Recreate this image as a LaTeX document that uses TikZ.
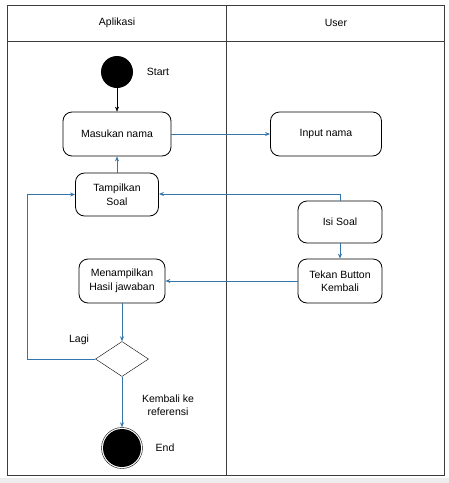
\documentclass[tikz,border=0pt]{standalone}
\usepackage{fontspec}
\setmainfont{Liberation Sans}
\usetikzlibrary{arrows.meta,shapes.geometric}
\definecolor{flowblue}{RGB}{52,118,172}
\definecolor{lanegray}{RGB}{60,60,60}
\tikzset{
    activity/.style={draw, thick, rounded corners=9pt, inner sep=0pt, align=center,
        minimum height=44pt, font=\fontsize{10.5}{13.5}\selectfont},
    flow/.style={->, >={Stealth[length=5pt,width=4pt]}, thick, flowblue},
    label/.style={font=\fontsize{10.5}{13.5}\selectfont, align=center}
}
\begin{document}
\begin{tikzpicture}[x=1pt, y=-1pt]
    \useasboundingbox (0,0) rectangle (449,483);
    \fill[black!7] (0,478) rectangle (449,483);

    % Swimlanes
    \draw[thick, lanegray] (7,5) rectangle (444,475);
    \draw[thick, lanegray] (7,41) -- (444,41);
    \draw[lanegray] (226,5) -- (226,475);
    \node[label] (lane1) at (117,23) {Aplikasi};
    \node[label] (lane2) at (336,23) {User};

    % Start
    \node[circle, fill=black, minimum size=32pt, inner sep=0pt] (start) at (117,72) {};
    \node[label] (startlbl) at (158,72) {Start};

    % Activities
    \node[activity, minimum width=108pt] (masukan) at (117,134) {Masukan nama};
    \node[activity, minimum width=111pt] (input) at (326,134) {Input nama};
    \node[activity, minimum width=83pt, minimum height=43pt] (tampil) at (117,194.5) {Tampilkan\\Soal};
    \node[activity, minimum width=84pt, minimum height=42pt] (isi) at (340,222) {Isi Soal};
    \node[activity, minimum width=84pt] (tekan) at (340,281) {Tekan Button\\Kembali};
    \node[activity, minimum width=86pt] (hasil) at (122,281) {Menampilkan\\Hasil jawaban};

    % Decision
    \node[diamond, draw, aspect=1.5, minimum width=53pt, minimum height=35pt, inner sep=0pt] (cek) at (122,359) {};
    \node[label] (lagi) at (79,340) {Lagi};
    \node[label] (kembali) at (168,405) {Kembali ke\\referensi};

    % End
    \node[circle, draw, minimum size=41pt, inner sep=0pt] (end) at (122,448) {};
    \fill (end.center) circle (19pt);
    \node[label] (endlbl) at (165,448) {End};

    % Flows
    \draw[->, >={Stealth[length=5pt,width=4pt]}, thin] (start) -- (masukan);
    \draw[flow] (masukan) -- (input);
    \draw[flow] (tampil) -- (masukan);
    \draw[flow] (isi.north) |- ([yshift=0.5pt]tampil.east);
    \draw[flow] (isi) -- (tekan);
    \draw[flow] (tekan) -- (hasil);
    \draw[flow] (hasil) -- (cek);
    \draw[flow] (cek.west) -| (27,194.5) -- (tampil.west);
    \draw[flow] (cek) -- (end);
\end{tikzpicture}
\end{document}
